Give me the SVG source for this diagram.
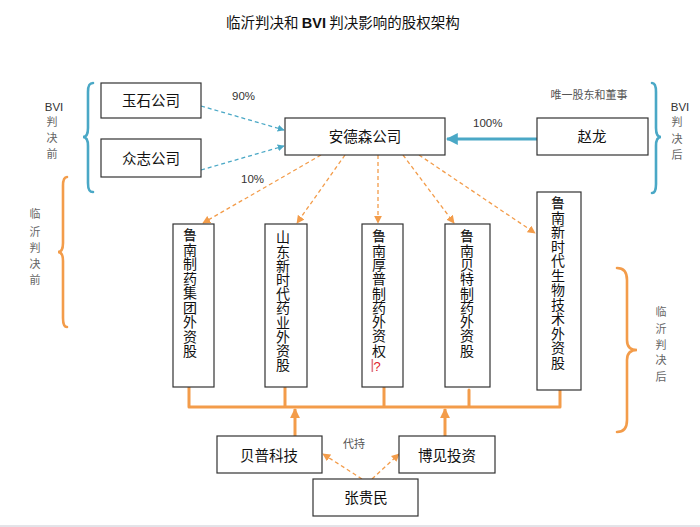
<svg xmlns="http://www.w3.org/2000/svg" width="700" height="527" viewBox="0 0 700 527">
<defs>
<style>
.box{fill:#fff;stroke:#333;stroke-width:1.2}
.t{font-family:"Noto Sans CJK SC","Liberation Sans",sans-serif;font-size:14.5px;fill:#111}
.tm{text-anchor:middle}
.v{font-family:"Noto Sans CJK SC","Liberation Sans",sans-serif;font-size:14px;fill:#111;writing-mode:vertical-rl;text-orientation:upright}
.lbl{font-family:"Liberation Sans","Noto Sans CJK SC",sans-serif;font-size:11.5px;fill:#333}
.side{font-family:"Noto Sans CJK SC","Liberation Sans",sans-serif;font-size:11px;fill:#666;text-anchor:middle}
.bd{fill:none;stroke:#4aa8c6;stroke-width:1.3;stroke-dasharray:4,3}
.od{fill:none;stroke:#f39c4a;stroke-width:1.3;stroke-dasharray:4,3}
.os{fill:none;stroke:#f39c4a;stroke-width:3;stroke-linecap:round;stroke-linejoin:round}
.brb{fill:none;stroke:#4aa8c6;stroke-width:2.6;stroke-linecap:round}
.bro{fill:none;stroke:#f39c4a;stroke-width:2.6;stroke-linecap:round}
</style>
<marker id="ab" viewBox="0 0 10 10" refX="9" refY="5" markerWidth="7" markerHeight="7" markerUnits="userSpaceOnUse" orient="auto"><path d="M0,0 L10,5 L0,10 z" fill="#4aa8c6"/></marker>
<marker id="ab2" viewBox="0 0 10 10" refX="9" refY="5" markerWidth="4" markerHeight="4" orient="auto"><path d="M0,0 L10,5 L0,10 z" fill="#4aa8c6"/></marker>
<marker id="ao" viewBox="0 0 10 10" refX="9" refY="5" markerWidth="8" markerHeight="8" markerUnits="userSpaceOnUse" orient="auto"><path d="M0,0 L10,5 L0,10 z" fill="#f39c4a"/></marker>
<marker id="ao2" viewBox="0 0 10 10" refX="9" refY="5" markerWidth="3.3" markerHeight="3.3" orient="auto"><path d="M0,0 L10,5 L0,10 z" fill="#f39c4a"/></marker>
</defs>
<rect width="700" height="527" fill="#fff"/>
<line x1="0" y1="526" x2="700" y2="526" stroke="#c8c8d2" stroke-width="1"/>

<text x="226" y="28" class="t" style="font-size:14.5px">临沂判决和 <tspan font-weight="bold" font-family="Liberation Sans,sans-serif">BVI</tspan> 判决影响的股权架构</text>

<g id="braces">
<path class="brb" d="M93,83 C89,83 88,86 88,92 L88,128 C88,134 86,137 83,137 C86,137 88,140 88,146 L88,183 C88,189 89,192 93,192"/>
<path class="bro" d="M67,177 C64,177 63,180 63,186 L63,243 C63,249 61,252 58,252 C61,252 63,255 63,261 L63,318 C63,324 64,327 67,327"/>
<path class="brb" d="M652,83 C655,83 656,86 656,92 L656,128 C656,134 658,137 661,137 C658,137 656,140 656,146 L656,184 C656,190 655,193 652,193"/>
<path class="bro" d="M617,268 C623,268 627,271 627,280 L627,340 C627,347 631,350 637,350 C631,350 627,353 627,360 L627,420 C627,429 623,432 617,432"/>
</g>

<g id="side-labels">
<text x="54" y="111" class="side" style="font-family:'Liberation Sans',sans-serif;fill:#333;font-size:11.5px">BVI</text>
<text x="52" y="126" class="side">判</text>
<text x="52" y="142" class="side">决</text>
<text x="52" y="158" class="side">前</text>
<text x="680" y="111" class="side" style="font-family:'Liberation Sans',sans-serif;fill:#333;font-size:11.5px">BVI</text>
<text x="677" y="126" class="side">判</text>
<text x="677" y="143" class="side">决</text>
<text x="677" y="159" class="side">后</text>
<text x="35" y="218" class="side">临</text>
<text x="35" y="236" class="side">沂</text>
<text x="35" y="252" class="side">判</text>
<text x="35" y="268" class="side">决</text>
<text x="35" y="284" class="side">前</text>
<text x="661" y="316" class="side">临</text>
<text x="661" y="333" class="side">沂</text>
<text x="661" y="349" class="side">判</text>
<text x="661" y="364" class="side">决</text>
<text x="661" y="381" class="side">后</text>
</g>

<g id="connectors">
<line class="bd" x1="201" y1="106" x2="284" y2="130" marker-end="url(#ab)"/>
<line class="bd" x1="201" y1="170" x2="284" y2="146" marker-end="url(#ab)"/>
<line x1="537" y1="139" x2="447" y2="139" stroke="#4aa8c6" stroke-width="3" marker-end="url(#ab2)"/>
<line class="od" x1="321" y1="155" x2="203" y2="223" marker-end="url(#ao)"/>
<line class="od" x1="345" y1="155" x2="297" y2="223" marker-end="url(#ao)"/>
<line class="od" x1="378" y1="155" x2="378" y2="223" marker-end="url(#ao)"/>
<line class="od" x1="403" y1="155" x2="454" y2="223" marker-end="url(#ao)"/>
<line class="od" x1="419" y1="155" x2="535" y2="233" marker-end="url(#ao)"/>
<path class="os" d="M189,387 L189,407 L560,407 L560,390 M285,387 L285,407 M384,387 L384,407 M469,390 L469,407"/>
<line x1="295" y1="436" x2="295" y2="409" stroke="#f39c4a" stroke-width="3" marker-end="url(#ao2)"/>
<line x1="445" y1="436" x2="445" y2="409" stroke="#f39c4a" stroke-width="3" marker-end="url(#ao2)"/>
<line class="od" x1="362" y1="479" x2="323" y2="454" marker-end="url(#ao)"/>
<line class="od" x1="372" y1="479" x2="399" y2="454" marker-end="url(#ao)"/>
<text x="232" y="100" class="lbl">90%</text>
<text x="241" y="183" class="lbl">10%</text>
<text x="473" y="127" class="lbl">100%</text>
<text x="589" y="99" class="side" style="fill:#555">唯一股东和董事</text>
<text x="354" y="448" class="side" style="fill:#555">代持</text>
</g>

<g id="yushi"><rect class="box" x="101" y="83" width="100" height="35"/><text x="151" y="106" class="t tm">玉石公司</text></g>
<g id="zhongzhi"><rect class="box" x="101" y="139" width="100" height="38"/><text x="151" y="164" class="t tm">众志公司</text></g>
<g id="andesen"><rect class="box" x="285" y="118" width="160" height="37"/><text x="365" y="142" class="t tm">安德森公司</text></g>
<g id="zhaolong"><rect class="box" x="537" y="118" width="111" height="37"/><text x="592" y="142" class="t tm">赵龙</text></g>

<g id="lunan-group"><rect class="box" x="173" y="224" width="41" height="163"/>
<text class="v" x="190" y="228" style="letter-spacing:0.5px">鲁南制药集团外资股</text></g>
<g id="shandong-xinshidai"><rect class="box" x="265" y="224" width="42" height="163"/>
<text class="v" x="283" y="230" style="letter-spacing:0.2px">山东新时代药业外资股</text></g>
<g id="lunan-houpu"><rect class="box" x="362" y="224" width="41" height="163"/>
<text class="v" x="379" y="229" style="letter-spacing:0.3px">鲁南厚普制药外资权</text>
<rect x="371.5" y="359" width="1.6" height="13" fill="#e07a8a"/>
<text x="377" y="371" class="t tm" style="fill:#e0202a;font-size:13px;font-family:'Liberation Sans',sans-serif">?</text></g>
<g id="lunan-beite"><rect class="box" x="445" y="224" width="45" height="163"/>
<text class="v" x="467" y="229" style="letter-spacing:0.3px">鲁南贝特制药外资股</text></g>
<g id="lunan-xinshidai-bio"><rect class="box" x="537" y="192" width="44" height="198"/>
<text class="v" x="558" y="196" style="letter-spacing:0.5px">鲁南新时代生物技术外资股</text></g>

<g id="beipu"><rect class="box" x="217" y="436" width="105" height="37"/><text x="269" y="461" class="t tm">贝普科技</text></g>
<g id="bojian"><rect class="box" x="399" y="436" width="96" height="37"/><text x="447" y="461" class="t tm">博见投资</text></g>
<g id="zhangguimin"><rect class="box" x="313" y="479" width="105" height="37"/><text x="366" y="503" class="t tm">张贵民</text></g>
</svg>
